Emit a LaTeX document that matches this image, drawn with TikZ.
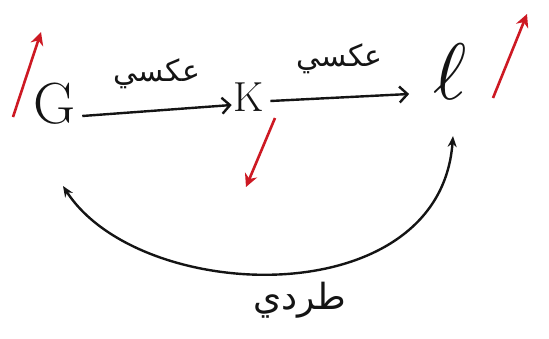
\documentclass[tikz,border=0pt]{standalone}
\usepackage{fontspec}
\newfontfamily\arabicfont[Script=Arabic]{DejaVu Sans}
\TeXXeTstate=1
\usetikzlibrary{arrows.meta}
\definecolor{penred}{RGB}{205,25,35}
\definecolor{ink}{RGB}{20,20,20}
\tikzset{
  letter/.style={inner sep=0pt, text=ink},
  arlabel/.style={inner sep=0pt, text=ink, font=\arabicfont\fontsize{30}{30}\selectfont},
  conn/.style={draw=ink, line width=2.4pt, -{Straight Barb[length=8pt,width=16pt]}},
  curvearrow/.style={draw=ink, line width=2.4pt, {Stealth[length=11pt,width=9pt]}-{Stealth[length=11pt,width=9pt]}},
  redarrow/.style={draw=penred, line width=2.6pt, -{Stealth[length=13pt,width=13pt]}}
}
\begin{document}
\begin{tikzpicture}[x=1pt,y=-1pt]
\useasboundingbox[fill=white] (0,0) rectangle (549,338);
% letters
\node[letter, font=\fontsize{58}{58}\selectfont] (G) at (55,104) {G};
\node[letter, font=\fontsize{42}{42}\selectfont] (K) at (249,97) {K};
\node[letter] (L) at (450,72) {\scalebox{8}{$\ell$}};
% main arrows
\draw[conn] ([shift={(6,12)}]G.east) -- node[arlabel, above=20pt] (a1) {\beginR عكسي\endR} ([shift={(-2,8)}]K.west);
\draw[conn] ([shift={(6,4)}]K.east) -- node[arlabel, above=22pt] (a2) {\beginR عكسي\endR} ([shift={(-24,22)}]L.west);
% red arrows
\coordinate (r1s) at (13,117); \coordinate (r1e) at (41,32);
\coordinate (r2s) at (275,118); \coordinate (r2e) at (246,187);
\coordinate (r3s) at (493,98); \coordinate (r3e) at (527,14);
\draw[redarrow] (r1s) -- (r1e);
\draw[redarrow] (r2s) -- (r2e);
\draw[redarrow] (r3s) -- (r3e);
% curved double arrow
\coordinate (cG) at (63,186);
\coordinate (cL) at (453,136);
\draw[curvearrow] (cG) .. controls (140,305) and (440,315) .. (cL);
% bottom label
\node[letter, font=\arabicfont\fontsize{36}{36}\selectfont] (t) at (300,300) {\beginR طردي\endR};
\end{tikzpicture}
\end{document}
